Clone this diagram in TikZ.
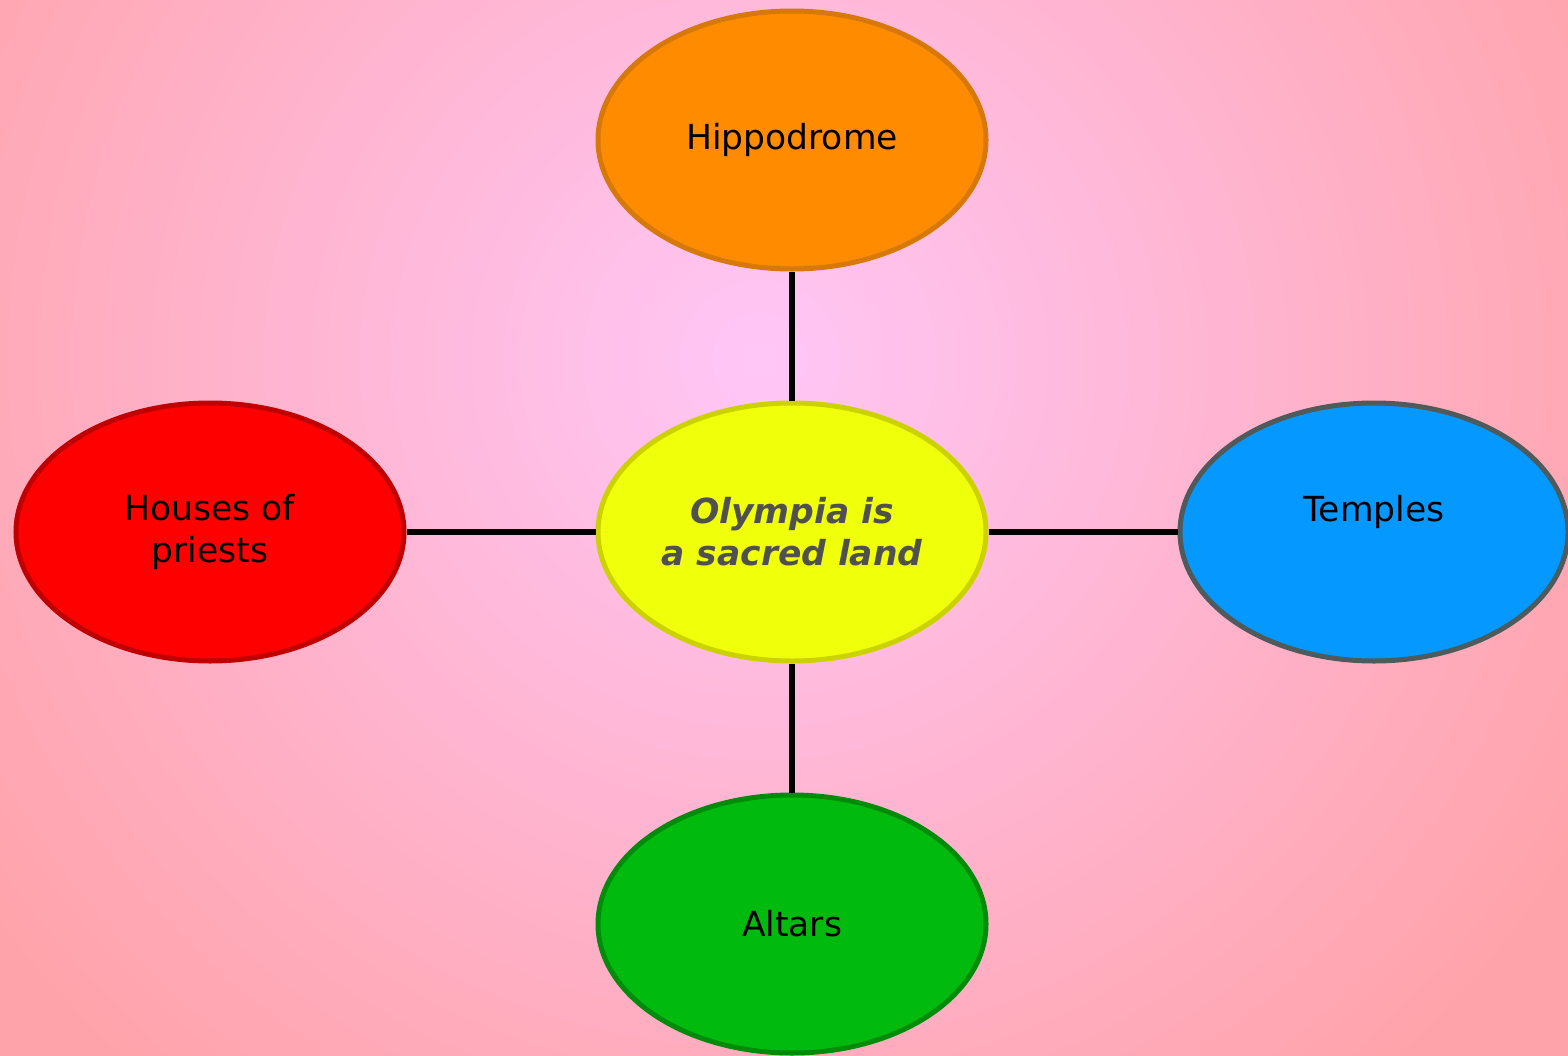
\documentclass[tikz,border=0pt]{standalone}
\usepackage{fontspec}
\setmainfont{DejaVu Sans}
\usetikzlibrary{shapes.geometric}
\definecolor{bgin}{RGB}{255,198,246}
\definecolor{bgout}{RGB}{255,163,170}
\definecolor{yfill}{RGB}{240,255,10}
\definecolor{ydraw}{RGB}{204,210,0}
\definecolor{ofill}{RGB}{255,140,0}
\definecolor{odraw}{RGB}{214,121,10}
\definecolor{rfill}{RGB}{255,0,0}
\definecolor{rdraw}{RGB}{192,0,0}
\definecolor{bfill}{RGB}{5,152,255}
\definecolor{bdraw}{RGB}{79,90,90}
\definecolor{gfill}{RGB}{0,187,14}
\definecolor{gdraw}{RGB}{0,140,10}
\definecolor{ctext}{RGB}{80,80,80}
\begin{document}
\begin{tikzpicture}[x=1pt,y=-1pt,
  bubble/.style={ellipse, minimum width=388pt, minimum height=258pt, inner sep=0pt, line width=5pt, align=center, font=\fontsize{34.5}{42}\selectfont},
  link/.style={line width=6.5pt, black}]
\useasboundingbox (0,0) rectangle (1568,1055);
\fill[bgout] (-20,-20) rectangle (1588,1075);
\foreach \i in {0,...,59}{
  \pgfmathsetmacro{\rr}{960*(1-\i/60)}
  \pgfmathsetmacro{\pp}{100*\i/59}
  \fill[bgin!\pp!bgout] (760,360) circle[radius=\rr];
}
\node[bubble, fill=yfill, draw=ydraw, text=ctext, font=\fontsize{34.5}{42}\selectfont\bfseries\itshape] (c) at (792,532) {Olympia is\\a sacred land};
\node[bubble, fill=ofill, draw=odraw] (h) at (792,140) {Hippodrome};
\node[bubble, fill=rfill, draw=rdraw] (p) at (210,532) {Houses of\\priests};
\node[bubble, fill=bfill, draw=bdraw] (t) at (1374,532) {};
\node[font=\fontsize{34.5}{42}\selectfont, inner sep=0pt] (tl) at (1374,512) {Temples};
\node[bubble, fill=gfill, draw=gdraw] (a) at (792,924) {Altars};
\draw[link] (c) -- (h);
\draw[link] (c) -- (p);
\draw[link] (c) -- (t);
\draw[link] (c) -- (a);
\end{tikzpicture}
\end{document}
